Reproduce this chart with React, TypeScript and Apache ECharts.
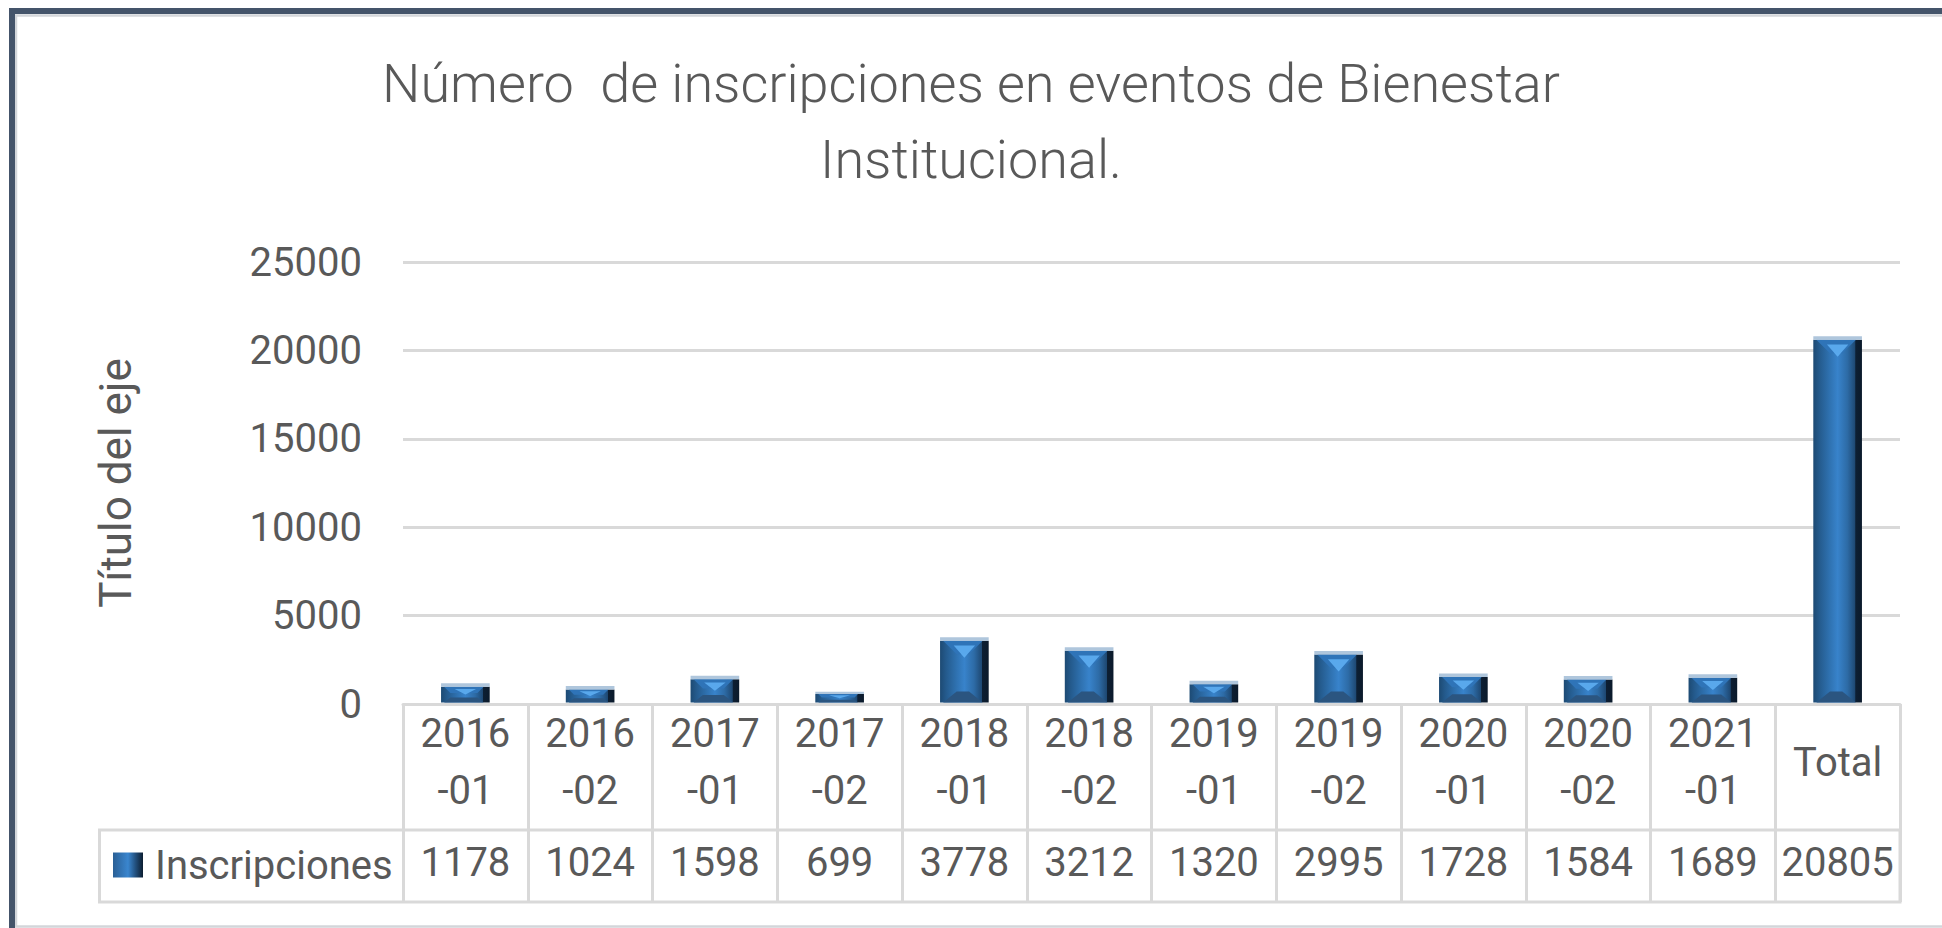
import React, { useEffect, useRef } from "react";
import * as echarts from "echarts";

const categories = ["2016-01", "2016-02", "2017-01", "2017-02", "2018-01", "2018-02", "2019-01", "2019-02", "2020-01", "2020-02", "2021-01", "Total"];
const values = [1178, 1024, 1598, 699, 3778, 3212, 1320, 2995, 1728, 1584, 1689, 20805];
const seriesName = "Inscripciones";
const titleText = "Número  de inscripciones en eventos de Bienestar\nInstitucional.";
const yAxisTitle = "Título del eje";
const yMax = 25000;
const yInterval = 5000;

const TEXT = "#595959";
const GRID = "#d9d9d9";
const FONT = "Roboto, 'Liberation Sans', sans-serif";

export default function App() {
  const ref = useRef<HTMLDivElement>(null);

  useEffect(() => {
    if (!ref.current) return;
    const chart = echarts.init(ref.current, null, { renderer: "svg" });

    const bodyGrad = () =>
      new echarts.graphic.LinearGradient(0, 0, 1, 0, [
        { offset: 0, color: "#1d4a73" },
        { offset: 0.12, color: "#245a8c" },
        { offset: 0.32, color: "#2e70ae" },
        { offset: 0.5, color: "#3883cb" },
        { offset: 0.7, color: "#2d6ba6" },
        { offset: 0.86, color: "#1e4872" },
        { offset: 0.87, color: "#0d1f33" },
        { offset: 1, color: "#0b1a2b" },
      ]);

    const option: any = {
      animation: false,
      backgroundColor: "#ffffff",
      title: {
        text: titleText,
        left: "center",
        top: 40,
        textStyle: {
          fontFamily: FONT,
          fontWeight: 300,
          fontSize: 54,
          lineHeight: 76,
          color: TEXT,
        },
      },
      legend: {
        left: 113,
        top: 845,
        padding: 0,
        itemWidth: 30,
        itemHeight: 25,
        icon: "rect",
        data: [
          {
            name: seriesName,
            itemStyle: {
              color: new echarts.graphic.LinearGradient(0, 0, 1, 0, [
                { offset: 0, color: "#2a5f95" },
                { offset: 0.5, color: "#3a86cf" },
                { offset: 0.75, color: "#22507e" },
                { offset: 1, color: "#0c1d30" },
              ]),
            },
          },
        ],
        textStyle: {
          fontFamily: FONT,
          fontSize: 40,
          lineHeight: 40,
          color: TEXT,
          padding: [0, 0, 0, 7],
        },
      },
      graphic: [
        {
          type: "rect",
          silent: true,
          shape: { x: 12, y: 11, width: 1980, height: 960 },
          style: { fill: "none", stroke: "#44546a", lineWidth: 6 },
          z: 100,
        },
        {
          type: "rect",
          silent: true,
          shape: { x: 16, y: 15.5, width: 1980, height: 911 },
          style: { fill: "none", stroke: "#d3d6da", lineWidth: 2.5 },
          z: 99,
        },
        {
          type: "rect",
          silent: true,
          shape: { x: 99.5, y: 830, width: 1800.5, height: 72 },
          style: { fill: "none", stroke: GRID, lineWidth: 3 },
          z: 1,
        },
      ],
      grid: { left: 403, right: 42, top: 262, bottom: 224, containLabel: false },
      xAxis: {
        type: "category",
        data: categories,
        boundaryGap: true,
        axisLine: { show: true, lineStyle: { color: GRID, width: 3 } },
        axisTick: {
          show: true,
          interval: 0,
          alignWithLabel: false,
          length: 198,
          lineStyle: { color: GRID, width: 3 },
        },
        axisLabel: {
          interval: 0,
          margin: 1,
          color: TEXT,
          fontFamily: FONT,
          formatter: (value: string, idx: number) => {
            if (value === "Total") return `{t|Total}\n{v|${values[idx]}}`;
            const [yr, per] = value.split("-");
            return `{a|${yr}}\n{a|-${per}}\n{v|${values[idx]}}`;
          },
          rich: {
            a: { fontSize: 40, lineHeight: 57, color: TEXT, fontFamily: FONT },
            t: { fontSize: 40, lineHeight: 114, color: TEXT, fontFamily: FONT },
            v: { fontSize: 40, lineHeight: 87, color: TEXT, fontFamily: FONT },
          },
        },
      },
      yAxis: {
        type: "value",
        min: 0,
        max: yMax,
        interval: yInterval,
        name: yAxisTitle,
        nameLocation: "middle",
        nameGap: 265,
        nameTextStyle: { fontFamily: FONT, fontSize: 44, color: TEXT },
        axisLine: { show: false },
        axisTick: { show: false },
        axisLabel: {
          fontFamily: FONT,
          fontSize: 40,
          color: TEXT,
          margin: 41,
          formatter: (v: number) => String(v),
        },
        splitLine: { lineStyle: { color: GRID, width: 3 } },
      },
      series: [
        {
          name: seriesName,
          type: "custom",
          itemStyle: { color: "#2e75b6" },
          encode: { x: 0, y: 1 },
          data: values.map((v, i) => [i, v]),
          renderItem: (params: any, api: any) => {
            const idx = api.value(0);
            const val = api.value(1);
            const top = api.coord([idx, val]);
            const base = api.coord([idx, 0]);
            const band = api.size([1, 0])[0];
            const w = band * 0.39;
            const cx = top[0];
            const x0 = cx - w / 2;
            const x1 = cx + w / 2;
            const yT = top[1];
            const yB = base[1] - 1.5;
            const h = yB - yT;
            const hl = Math.min(3.5, h * 0.22);
            const bTop = yT + hl;
            const bh = yB - bTop;
            const b = Math.max(0, Math.min(w * 0.28, bh * 0.4, 15));
            const tw = w * 0.22;
            const children: any[] = [
              { type: "rect", shape: { x: x0, y: bTop, width: w, height: bh }, style: { fill: bodyGrad() } },
              {
                type: "polygon",
                shape: { points: [[x0 + 3, bTop], [x1 - 6, bTop], [x1 - 6 - b, bTop + b], [x0 + 3 + b, bTop + b]] },
                style: { fill: "#2f74b8" },
              },
              {
                type: "polygon",
                shape: { points: [[cx - tw, bTop + b * 0.35], [cx + tw, bTop + b * 0.35], [cx, bTop + b * 1.25]] },
                style: { fill: "#5eaef2", opacity: 0.9 },
              },
              {
                type: "polygon",
                shape: { points: [[x0 + 3 + b, yB - b * 0.8], [x1 - 6 - b, yB - b * 0.8], [x1 - 6, yB], [x0 + 3, yB]] },
                style: { fill: "#2b5580" },
              },
              { type: "rect", shape: { x: x0, y: yT, width: w, height: hl }, style: { fill: "#afc6dc" } },
            ];
            return { type: "group", children };
          },
        },
      ],
    };

    chart.setOption(option);
    return () => chart.dispose();
  }, []);

  return (
    <div
      ref={ref}
      style={{ position: "fixed", left: 0, top: 0, width: 1942, height: 928, background: "#fff" }}
    />
  );
}
